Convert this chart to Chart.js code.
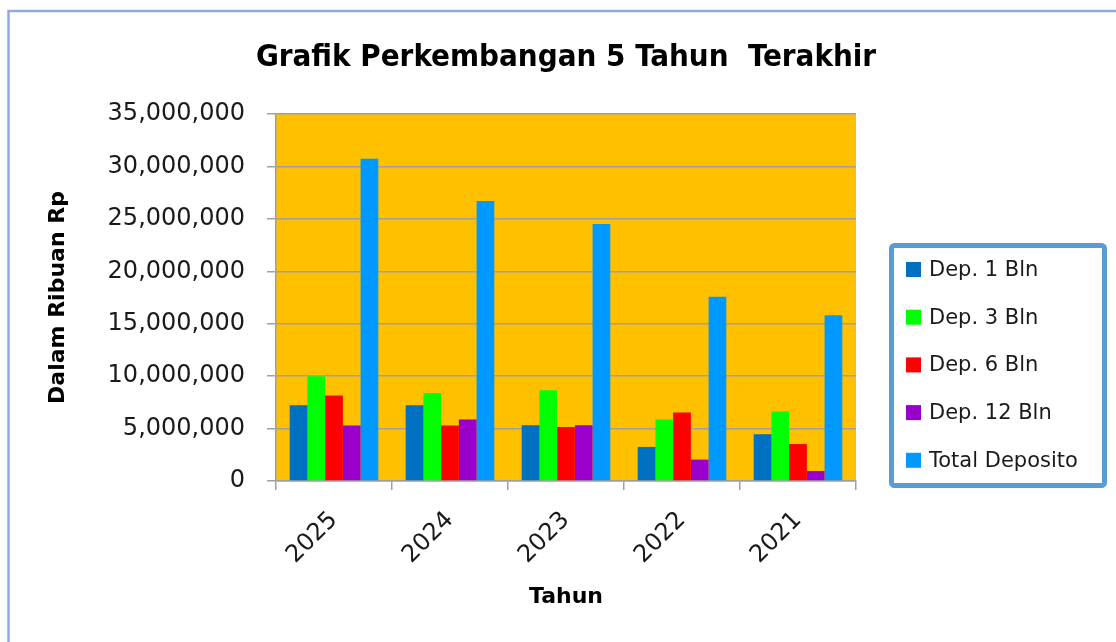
<!DOCTYPE html>
<html>
<head>
<meta charset="utf-8">
<title>Grafik Perkembangan 5 Tahun Terakhir</title>
<script src="https://cdn.jsdelivr.net/npm/chart.js@4.4.1/dist/chart.umd.min.js"></script>
<style>
  html, body { margin: 0; padding: 0; background: #ffffff; }
  #grafik { display: block; }
</style>
</head>
<body>
<canvas id="grafik" width="1116" height="642"></canvas>
<script>
const tahun = ['2025', '2024', '2023', '2022', '2021'];
const dep1Bln = [7220000, 7220000, 5320000, 3250000, 4460000];
const dep3Bln = [10000000, 8400000, 8660000, 5860000, 6620000];
const dep6Bln = [8150000, 5290000, 5150000, 6530000, 3530000];
const dep12Bln = [5290000, 5860000, 5320000, 2040000, 950000];
const totalDeposito = [30730000, 26700000, 24500000, 17560000, 15800000];

const judul = 'Grafik Perkembangan 5 Tahun  Terakhir';
const ctx = document.getElementById('grafik').getContext('2d');

// background, outer frame, title and the boxed legend
const latarPlugin = {
  id: 'latar',
  beforeDraw(chart) {
    const c = chart.ctx;
    const a = chart.chartArea;
    c.save();
    c.fillStyle = '#ffffff';
    c.fillRect(0, 0, chart.width, chart.height);
    c.fillStyle = '#FFC000';
    c.fillRect(a.left, a.top, a.right - a.left, a.bottom - a.top);
    c.restore();
  },
  afterDraw(chart) {
    const c = chart.ctx;
    c.save();
    // outer frame
    c.strokeStyle = '#8FAADC';
    c.lineWidth = 2.5;
    c.strokeRect(8.5, 11, 1200, 700);

    // title
    c.fillStyle = '#000000';
    c.font = 'bold 31px "DejaVu Sans Condensed", "Liberation Sans Narrow", "DejaVu Sans"';
    c.textAlign = 'center';
    c.textBaseline = 'middle';
    c.fillText(judul, 566, 58);

    // legend box
    c.fillStyle = '#ffffff';
    c.fillRect(891, 245, 214, 241);
    c.strokeStyle = '#5B9BD5';
    c.lineWidth = 5;
    c.beginPath();
    c.roundRect(891.5, 245.5, 213, 240, 3);
    c.stroke();

    c.font = '21px "DejaVu Sans"';
    c.textAlign = 'left';
    chart.data.datasets.forEach((ds, i) => {
      const y = 269.5 + i * 47.7;
      c.fillStyle = ds.backgroundColor;
      c.fillRect(906, y - 7.5, 15, 15);
      c.fillStyle = '#1a1a1a';
      c.fillText(ds.label, 929, y + 1);
    });
    c.restore();
  }
};

new Chart(ctx, {
  type: 'bar',
  data: {
    labels: tahun,
    datasets: [
      { label: 'Dep. 1 Bln', data: dep1Bln, backgroundColor: '#0070C0' },
      { label: 'Dep. 3 Bln', data: dep3Bln, backgroundColor: '#00FF00' },
      { label: 'Dep. 6 Bln', data: dep6Bln, backgroundColor: '#FF0000' },
      { label: 'Dep. 12 Bln', data: dep12Bln, backgroundColor: '#9900CC' },
      { label: 'Total Deposito', data: totalDeposito, backgroundColor: '#0099FF' }
    ]
  },
  options: {
    responsive: false,
    animation: false,
    layout: {
      padding: { top: 114, left: 16, right: 260, bottom: 0 }
    },
    datasets: {
      bar: {
        categoryPercentage: 0.764,
        barPercentage: 1.0,
        borderWidth: 0
      }
    },
    plugins: {
      legend: { display: false },
      title: { display: false },
      tooltip: { enabled: false }
    },
    scales: {
      x: {
        afterFit: (scale) => { scale.height = 161; },
        grid: {
          offset: true,
          drawOnChartArea: false,
          drawTicks: true,
          tickLength: 9,
          color: '#A0A0A0',
          lineWidth: 1.5
        },
        border: { color: '#A0A0A0', width: 1.5 },
        ticks: {
          minRotation: 45,
          maxRotation: 45,
          padding: 16,
          color: '#1a1a1a',
          font: { family: 'DejaVu Sans', size: 24 }
        },
        title: {
          display: true,
          text: 'Tahun',
          color: '#000000',
          padding: { top: 0, bottom: 32 },
          font: { family: 'DejaVu Sans', size: 22, weight: 'bold' }
        }
      },
      y: {
        min: 0,
        max: 35000000,
        afterFit: (scale) => { scale.width = 260; },
        grid: {
          color: '#A0A0A0',
          lineWidth: 1.5,
          tickLength: 9
        },
        border: { color: '#A0A0A0', width: 1.5 },
        ticks: {
          stepSize: 5000000,
          padding: 22,
          color: '#1a1a1a',
          font: { family: 'DejaVu Sans', size: 24 },
          callback: (value) => value.toLocaleString('en-US')
        },
        title: {
          display: true,
          text: 'Dalam Ribuan Rp',
          color: '#000000',
          padding: { top: 29, bottom: 0 },
          font: { family: 'DejaVu Sans', size: 22, weight: 'bold' }
        }
      }
    }
  },
  plugins: [latarPlugin]
});
</script>
</body>
</html>
